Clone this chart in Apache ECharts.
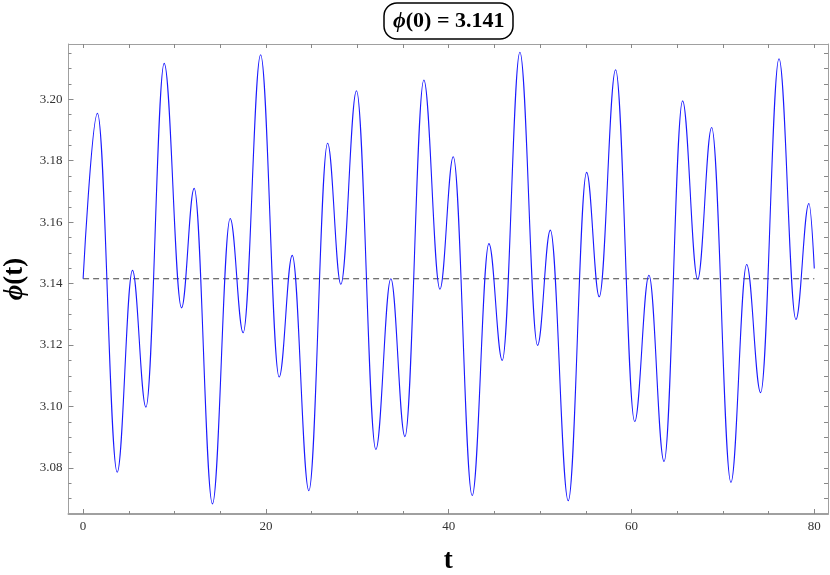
<!DOCTYPE html>
<html>
<head>
<meta charset="utf-8">
<title>phi(t)</title>
<script src="https://cdn.jsdelivr.net/npm/echarts@6.0.0/dist/echarts.min.js"></script>
<style>
    html, body { margin: 0; padding: 0; background: #fff; }
    #chart-phi { width: 830px; height: 575px; }
</style>
</head>
<body>
<div id="chart-phi"></div>
<script>

// turning points of phi(t)
var t_points = [0, 1.57, 3.73, 5.40, 6.87, 8.87, 10.77, 12.15, 14.15, 16.09, 17.51, 19.42,
    21.45, 22.88, 24.70, 26.75, 28.20, 29.91, 32.03, 33.67, 35.21, 37.28, 39.04, 40.50,
    42.57, 44.40, 45.86, 47.79, 49.72, 51.12, 53.08, 55.09, 56.47, 58.26, 60.35, 61.91,
    63.56, 65.59, 67.24, 68.77, 70.88, 72.60, 74.13, 76.14, 77.99, 79.41, 80];

var phi_points = [3.1416, 3.1954, 3.0786, 3.1443, 3.0998, 3.2117, 3.1321, 3.1710, 3.0683, 3.1612, 3.1240, 3.2145,
    3.1096, 3.1492, 3.0726, 3.1857, 3.1398, 3.2028, 3.0860, 3.1416, 3.0902, 3.2063, 3.1382, 3.1813,
    3.0710, 3.1530, 3.1150, 3.2153, 3.1199, 3.1574, 3.0693, 3.1762, 3.1357, 3.2096, 3.0951, 3.1427,
    3.0821, 3.1995, 3.1414, 3.1908, 3.0753, 3.1462, 3.1045, 3.2132, 3.1283, 3.1661, 3.1449];

// dashed reference line phi = pi
var ref_t = [0, 80];
var ref_phi = [3.14159, 3.14159];

// tick values
var x_major = [0, 20, 40, 60, 80];
var x_minor = [5, 10, 15, 25, 30, 35, 45, 50, 55, 65, 70, 75];
var y_major = [3.08, 3.10, 3.12, 3.14, 3.16, 3.18, 3.20];
var y_minor = [3.07, 3.075, 3.085, 3.09, 3.095, 3.105, 3.11, 3.115, 3.125, 3.13, 3.135,
    3.145, 3.15, 3.155, 3.165, 3.17, 3.175, 3.185, 3.19, 3.195, 3.205, 3.21, 3.215];


var frameColor = '#a0a0a0';
var serif = '"Liberation Serif", "DejaVu Serif", serif';


function zip(a, b) {
    var out = [];
    for (var i = 0; i < a.length; i++) out.push([a[i], b[i]]);
    return out;
}

// one frame side: line, ticks at the given values, optional labels
function frameAxis(kind, pos, ticks, tickLen, labels, showLine) {
    var ax = {
        type: 'value',
        position: pos,
        gridIndex: 0,
        min: kind === 'x' ? -1.6 : 3.065,
        max: kind === 'x' ? 81.5 : 3.218,
        splitLine: { show: false },
        axisLine: { show: showLine, onZero: false, lineStyle: { color: frameColor, width: (pos === 'bottom') ? 2 : 1 } },
        axisTick: { show: true, inside: true, length: tickLen, customValues: ticks, lineStyle: { color: '#888', width: 1 } },
        axisLabel: { show: false }
    };
    if (labels) {
        ax.axisLabel = {
            show: true,
            customValues: labels,
            color: '#333',
            fontFamily: serif,
            fontSize: 13,
            margin: 6,
            formatter: function (v) { return kind === 'x' ? String(Math.round(v)) : v.toFixed(2); }
        };
    }
    return ax;
}


var chart = echarts.init(document.getElementById('chart-phi'), null, { renderer: 'canvas' });

var xAxes = [
    frameAxis('x', 'bottom', x_major, 5, x_major, true),
    frameAxis('x', 'bottom', x_minor, 3, null, false),
    frameAxis('x', 'top', x_major.concat(x_minor), 4, null, true)
];
xAxes[0].name = 't';
xAxes[0].nameLocation = 'middle';
xAxes[0].nameGap = 34;
xAxes[0].nameTextStyle = { fontFamily: serif, fontWeight: 'bold', fontSize: 27, color: '#000' };

var yAxes = [
    frameAxis('y', 'left', y_major, 5, y_major, true),
    frameAxis('y', 'left', y_minor, 3, null, false),
    frameAxis('y', 'right', y_major.concat(y_minor), 4, null, true)
];
yAxes[0].name = '{i|ϕ}(t)';
yAxes[0].nameLocation = 'middle';
yAxes[0].nameRotate = 90;
yAxes[0].nameGap = 30;
yAxes[0].nameTextStyle = {
    fontFamily: serif, fontWeight: 'bold', fontSize: 27, color: '#000',
    rich: { i: { fontFamily: serif, fontWeight: 'bold', fontStyle: 'italic', fontSize: 27, color: '#000' } }
};

var option = {
    animation: false,
    backgroundColor: '#fff',
    title: {
        text: '{i|ϕ}(0) = 3.141',
        left: 384,
        top: 3,
        padding: [7, 9, 7, 9],
        borderColor: '#000',
        borderWidth: 1.5,
        borderRadius: 13,
        textStyle: {
            fontFamily: serif, fontWeight: 'bold', fontSize: 22, color: '#000',
            rich: { i: { fontFamily: serif, fontWeight: 'bold', fontStyle: 'italic', fontSize: 22, color: '#000' } }
        }
    },
    grid: { left: 68.5, right: 2, top: 44, bottom: 61, containLabel: false, outerBoundsMode: 'none' },
    xAxis: xAxes,
    yAxis: yAxes,
    series: [
        {
            name: 'phi',
            type: 'line',
            data: zip(t_points, phi_points),
            showSymbol: false,
            smooth: 0.38,
            smoothMonotone: 'x',
            lineStyle: { color: '#1a1aff', width: 1.1 },
            z: 3
        },
        {
            name: 'pi',
            type: 'line',
            data: zip(ref_t, ref_phi),
            showSymbol: false,
            lineStyle: { color: '#444', width: 1.1, type: [6, 4] },
            z: 2
        }
    ]
};

chart.setOption(option);

</script>
</body>
</html>
